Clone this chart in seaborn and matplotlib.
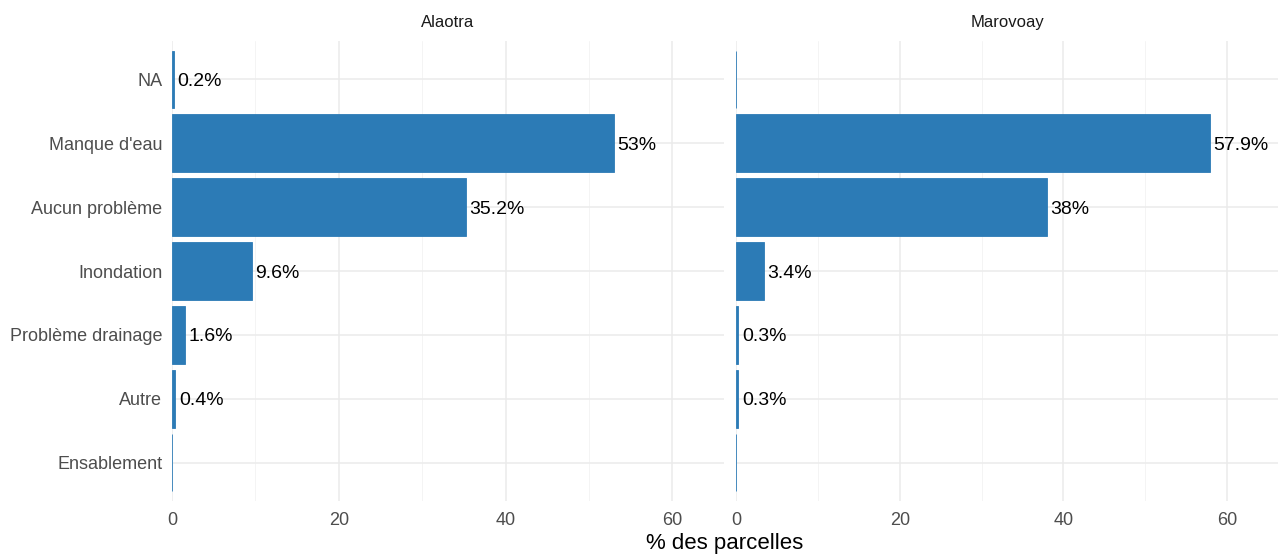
import numpy as np
import pandas as pd
import matplotlib
matplotlib.use("Agg")
import matplotlib.pyplot as plt
import seaborn as sns

# Data
categories = ["NA", "Manque d'eau", "Aucun problème", "Inondation",
              "Problème drainage", "Autre", "Ensablement"]
alaotra = [0.2, 53.0, 35.2, 9.6, 1.6, 0.4, 0.0]
marovoay = [0.0, 57.9, 38.0, 3.4, 0.3, 0.3, 0.0]
regions = ["Alaotra", "Marovoay"]

df = pd.DataFrame({
    "probleme": categories * 2,
    "pct": alaotra + marovoay,
    "region": ["Alaotra"] * len(categories) + ["Marovoay"] * len(categories),
})

sns.set_style("white")
plt.rcParams['font.family'] = ['Liberation Sans', 'DejaVu Sans']

bar_col = "#2C7BB6"
fig = plt.figure(figsize=(12.78, 5.54), dpi=100)
ax_l = fig.add_axes([172 / 1278, 1 - 501 / 554, (724 - 172) / 1278, (501 - 41) / 554])
ax_r = fig.add_axes([736 / 1278, 1 - 501 / 554, (1278 - 736) / 1278, (501 - 41) / 554])

def fmt(v):
    return f"{v:g}%"

for ax, reg in zip([ax_l, ax_r], regions):
    sub = df[df["region"] == reg]
    sns.barplot(data=sub, x="pct", y="probleme", order=categories, orient="h",
                color=bar_col, saturation=1, width=0.9, ax=ax,
                edgecolor=bar_col, linewidth=0.6)
    for i, v in enumerate(sub["pct"]):
        if v > 0:
            ax.annotate(fmt(v), (v, i), xytext=(2.5, 0), textcoords="offset points",
                        ha="left", va="center_baseline", fontsize=14, color="black")
    ax.set_xlim(0, 66.2)
    ax.set_ylim(len(categories) - 0.4, -0.6)
    ax.set_xticks([0, 20, 40, 60])
    ax.set_xticks([10, 30, 50], minor=True)
    ax.grid(True, which="major", color="#EBEBEB", linewidth=1.1)
    ax.grid(True, which="minor", axis="x", color="#F2F2F2", linewidth=0.6)
    ax.set_axisbelow(True)
    for s in ax.spines.values():
        s.set_visible(False)
    ax.tick_params(axis="y", length=0, labelsize=13, labelcolor="#4D4D4D", pad=7)
    ax.tick_params(axis="x", which="both", length=0, labelsize=13, labelcolor="#4D4D4D", pad=8)
    ax.set_xlabel("")
    ax.set_ylabel("")
    ax.set_title(reg, fontsize=12, color="#1A1A1A", pad=10)

ax_r.set_yticklabels([])
fig.text((172 + 1278) / 2 / 1278, 1 - 544 / 554, "% des parcelles",
         ha="center", va="center", fontsize=16, color="black")

fig.savefig("out.png", dpi=100)
